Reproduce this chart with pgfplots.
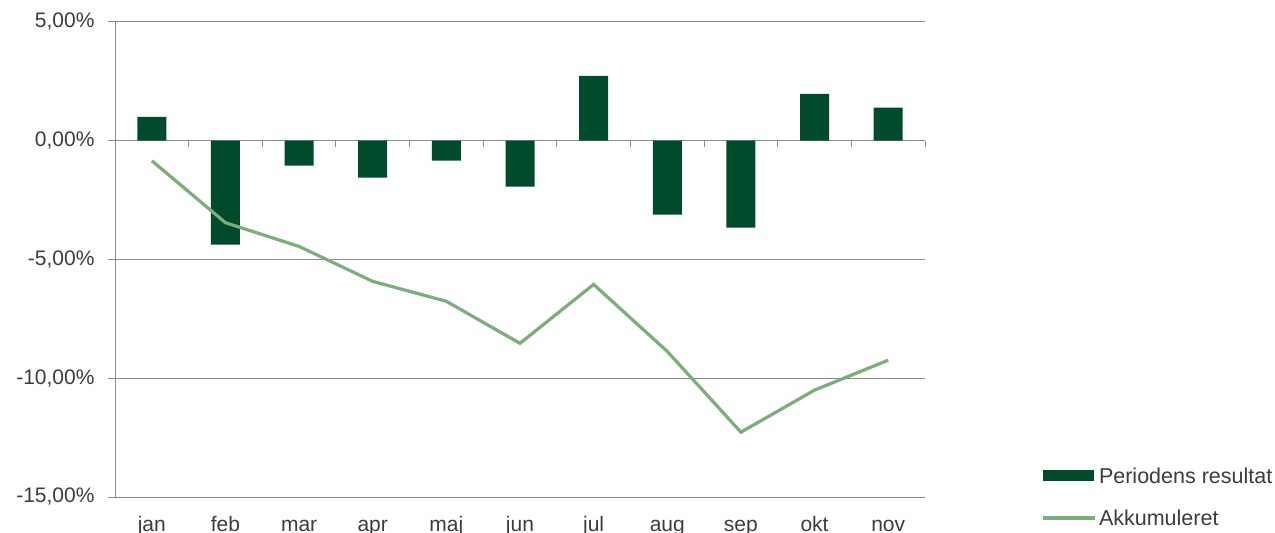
\documentclass[border=0pt]{standalone}
\usepackage{pgfplots}
\pgfplotsset{compat=1.18}
\usepackage{fontspec}
\setmainfont{Liberation Sans}
\definecolor{barcol}{HTML}{004B2C}
\definecolor{linecol}{HTML}{7AAE7A}
\definecolor{axcol}{HTML}{8A8A8A}
\definecolor{txtcol}{HTML}{3C3C3C}
\begin{document}
\begin{tikzpicture}
\useasboundingbox (0,0) rectangle (1275bp,533bp);
\begin{axis}[
 at={(115bp,36bp)}, anchor=south west,
 scale only axis, width=810bp, height=475bp,
 xmin=-0.5, xmax=10.5, ymin=-15, ymax=5,
 axis x line*=bottom, axis y line*=left,
 x axis line style={draw=none},
 y axis line style={axcol, line width=1bp},
 xtick={0,...,10},
 xticklabels={jan,feb,mar,apr,maj,jun,jul,aug,sep,okt,nov},
 major x tick style={draw=none},
 xticklabel style={anchor=base, yshift=-27bp},
 yticklabel style={xshift=-10bp},
 ytick={-15,-10,-5,0,5},
 yticklabels={{-15,00\%},{-10,00\%},{-5,00\%},{0,00\%},{5,00\%}},
 ymajorgrids, grid style={axcol, line width=1bp},
 major y tick style={axcol, line width=1bp},
 tick align=outside, major tick length=7bp,
 tick label style={font=\fontsize{21bp}{25bp}\selectfont, text=txtcol},
 clip=false,
 legend cell align=left,
 legend style={draw=none, fill=none, at={(1.144,0)}, anchor=west,
   font=\fontsize{21.5bp}{25bp}\selectfont, text=txtcol, row sep=21bp,
   inner sep=0pt},
]
\addplot[ybar, bar width=29bp, fill=barcol, draw=none,
  legend image code/.code={\fill[barcol] (0bp,-5bp) rectangle (51bp,6bp);}]
  coordinates {(0,1.01) (1,-4.37) (2,-1.05) (3,-1.55) (4,-0.84) (5,-1.93)
               (6,2.73) (7,-3.11) (8,-3.66) (9,1.97) (10,1.39)};
\addlegendentry{Periodens resultat}
\addplot[linecol, line width=3.2bp, mark=none,
  legend image code/.code={\draw[linecol, line width=3.2bp] (0bp,0bp) -- (52bp,0bp);}]
  coordinates {(0,-0.84) (1,-3.45) (2,-4.45) (3,-5.92) (4,-6.76) (5,-8.53)
               (6,-6.05) (7,-8.87) (8,-12.27) (9,-10.5) (10,-9.24)};
\addlegendentry{Akkumuleret}
\pgfplotsinvokeforeach{-0.5,0.5,...,10.5}{\draw[axcol, line width=1bp] (axis cs:#1,0) -- ++(0bp,-6bp);}
\end{axis}
\end{tikzpicture}
\end{document}
